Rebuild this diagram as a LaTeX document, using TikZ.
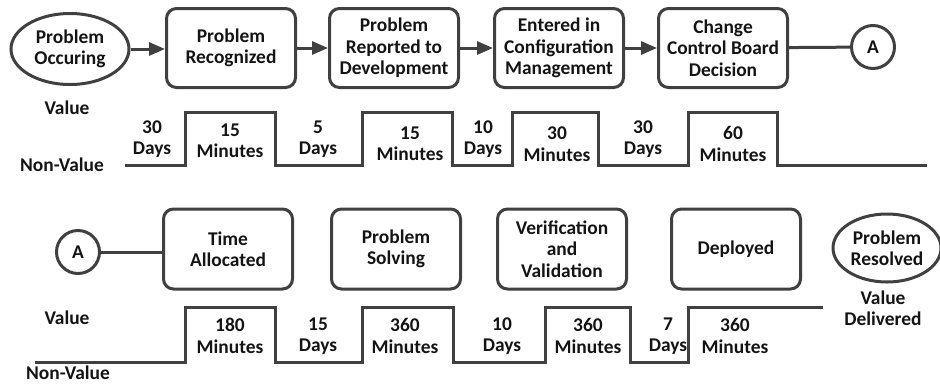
\documentclass[tikz,border=0pt]{standalone}
\usepackage{fontspec}
\setmainfont{Carlito}
\usetikzlibrary{arrows.meta,shapes.geometric}

\begin{document}
\begin{tikzpicture}[x=1bp, y=-1bp, every node/.style={font=\fontsize{19.5}{21.5}\selectfont\bfseries, text=black!92, align=center, inner sep=0pt}, >={Triangle[length=16bp,width=13bp]}, ln/.style={draw=black!75, line width=3bp}, box/.style={ln, rounded corners=10bp, minimum width=129bp, minimum height=79bp}, oval/.style={ln, ellipse, minimum width=118bp, minimum height=71bp}, conn/.style={ln, circle, minimum size=43bp}]
	\useasboundingbox (0,0) rectangle (940,383);
	% first half of the process
	\node[oval] (occ) at (70,49) {Problem\\Occuring};
	\node[box] (rec) at (231,48) {Problem\\Recognized};
	\node[box] (rep) at (394,48) {Problem\\Reported to\\Development};
	\node[box] (cm) at (559,48) {Entered in\\Configuration\\Management};
	\node[box] (ccb) at (723,48) {Change\\Control Board\\Decision};
	\node[conn] (a1) at (873,47) {A};
	\draw[->, ln] (occ) -- (occ -| rec.west);
	\draw[->, ln] (rec) -- (rep);
	\draw[->, ln] (rep) -- (cm);
	\draw[->, ln] (cm) -- (ccb);
	\draw[ln] (ccb) -- (a1);
	\node (v1) at (67,108) {Value};
	\node (nv1) at (62,165) {Non-Value};
	\draw[ln] (125,165) foreach \r/\f in {185/275,362/452,512/598,688/777} { -- (\r,165) -- (\r,112) -- (\f,112) -- (\f,165) } -- (927,165);
	\node (t1) at (152,139) {30\\Days};
	\node (t2) at (230,141) {15\\Minutes};
	\node (t3) at (318,139) {5\\Days};
	\node (t4) at (410,144) {15\\Minutes};
	\node (t5) at (483,139) {10\\Days};
	\node (t6) at (557,144) {30\\Minutes};
	\node (t7) at (643,139) {30\\Days};
	\node (t8) at (733,144) {60\\Minutes};
	% second half
	\node[conn] (a2) at (78,252) {A};
	\node[box, minimum height=80bp] (ta) at (228,249) {Time\\Allocated};
	\node[box, minimum height=80bp] (ps) at (396,249) {Problem\\Solving};
	\node[box, minimum height=80bp] (vv) at (562,249) {Verification\\and\\Validation};
	\node[box, minimum height=80bp] (dep) at (736,249) {Deployed};
	\node[oval, minimum width=108bp, minimum height=68bp] (res) at (887,248) {Problem\\Resolved};
	\draw[ln] (a2) -- (a2 -| ta.west);
	\node (vd) at (883,308) {Value\\Delivered};
	\node (v2) at (67,318) {Value};
	\node (nv2) at (68,373) {Non-Value};
	\draw[ln] (35,362) foreach \r/\f in {185/275,362/453,545/630} { -- (\r,362) -- (\r,307) -- (\f,307) -- (\f,362) } -- (688,362) -- (688,307) -- (823,307);
	\node (b1) at (230,336) {180\\Minutes};
	\node (b2) at (318,336) {15\\Days};
	\node (b3) at (405,336) {360\\Minutes};
	\node (b4) at (502,336) {10\\Days};
	\node (b5) at (588,336) {360\\Minutes};
	\node (b6) at (668,336) {7\\Days};
	\node (b7) at (735,336) {360\\Minutes};
\end{tikzpicture}
\end{document}
